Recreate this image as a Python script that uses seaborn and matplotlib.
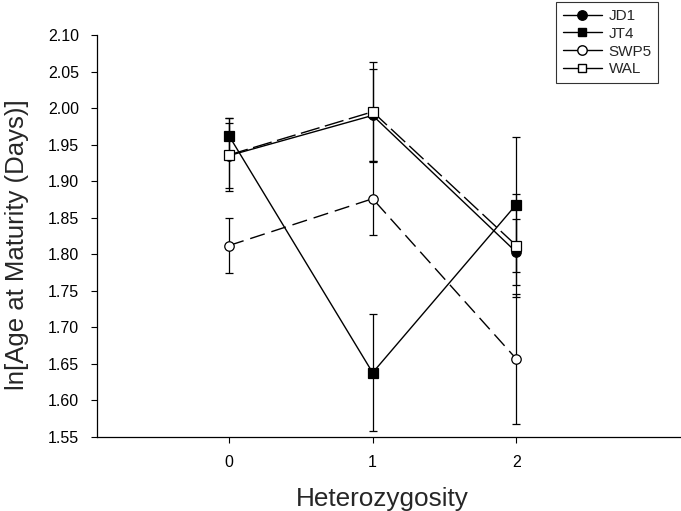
import matplotlib
matplotlib.use("Agg")
import matplotlib.pyplot as plt
import seaborn as sns
import pandas as pd
from matplotlib.lines import Line2D
from matplotlib.legend_handler import HandlerLine2D

sns.set_theme(style="ticks")
plt.rcParams['font.family'] = ['Liberation Sans', 'DejaVu Sans']

heterozygosity = [0, 1, 2]
jd1 = [1.935, 1.990, 1.803]
jd1_err = [0.045, 0.063, 0.045]
jt4 = [1.962, 1.638, 1.868]
jt4_err = [0.025, 0.080, 0.092]
swp5 = [1.812, 1.876, 1.657]
swp5_err = [0.037, 0.050, 0.089]
wal = [1.936, 1.995, 1.812]
wal_err = [0.050, 0.068, 0.070]

series = [
    ("JD1", jd1, jd1_err, dict(marker="o", markerfacecolor="black", linestyle="-")),
    ("JT4", jt4, jt4_err, dict(marker="s", markerfacecolor="black", linestyle="-")),
    ("SWP5", swp5, swp5_err, dict(marker="o", markerfacecolor="white", linestyle=(0, (11, 5)))),
    ("WAL", wal, wal_err, dict(marker="s", markerfacecolor="white", linestyle=(0, (14, 4)))),
]


class MarkerLeftHandler(HandlerLine2D):
    def get_xdata(self, legend, xdescent, ydescent, width, height, fontsize):
        xdata = [-xdescent, -xdescent + width]
        xdata_marker = [-xdescent + 0.38 * width]
        return xdata, xdata_marker


fig = plt.figure(figsize=(6.81, 5.11), dpi=100)
ax = fig.add_axes([0.1424, 0.1448, 0.856, 0.7867])

handles = []
for name, vals, errs, style in series:
    df = pd.DataFrame({"x": heterozygosity, "y": vals})
    ax.errorbar(df["x"], df["y"], yerr=errs, fmt="none", ecolor="black",
                elinewidth=0.9, capsize=3.2, capthick=0.9, zorder=1)
    sns.lineplot(data=df, x="x", y="y", ax=ax, color="black", linewidth=1.0,
                 markersize=6.8, markeredgecolor="black", markeredgewidth=0.9,
                 zorder=3, legend=False, **style)
    handles.append(Line2D([0], [0], color="black", linewidth=1.0, marker=style["marker"],
                          markerfacecolor=style["markerfacecolor"], markeredgecolor="black",
                          markersize=6.8 if style["marker"] == "o" else 6.0, linestyle="-"))

ax.set_xlim(-0.92, 3.14)
ax.set_ylim(1.55, 2.10)
ax.set_xticks(heterozygosity)
ax.set_xticklabels([str(v) for v in heterozygosity])
yt = [1.55 + 0.05 * i for i in range(12)]
ax.set_yticks(yt)
ax.set_yticklabels([f"{v:.2f}" for v in yt])
ax.tick_params(axis="both", labelsize=11.5, length=4, width=0.8, colors="black", direction="out")
ax.tick_params(axis="y", pad=9)
ax.tick_params(axis="x", pad=9)
ax.set_xlabel("Heterozygosity", fontsize=18.8, labelpad=12)
ax.set_ylabel("ln[Age at Maturity (Days)]", fontsize=18.5, labelpad=9)
ax.xaxis.set_label_coords(0.49, -0.125)
ax.yaxis.set_label_coords(-0.117, 0.478)
sns.despine(ax=ax)
for s in ["left", "bottom"]:
    ax.spines[s].set_linewidth(0.9)
    ax.spines[s].set_color("black")

leg = ax.legend(handles, [s[0] for s in series], loc="upper left",
                bbox_to_anchor=(0.787, 1.082), frameon=True, fancybox=False,
                edgecolor="black", fontsize=11, handlelength=2.6, numpoints=1,
                borderpad=0.45, labelspacing=0.25, handletextpad=0.4, borderaxespad=0,
                handler_map={Line2D: MarkerLeftHandler()})
leg.get_frame().set_linewidth(0.8)

fig.savefig("out.png", dpi=100, facecolor="white")
